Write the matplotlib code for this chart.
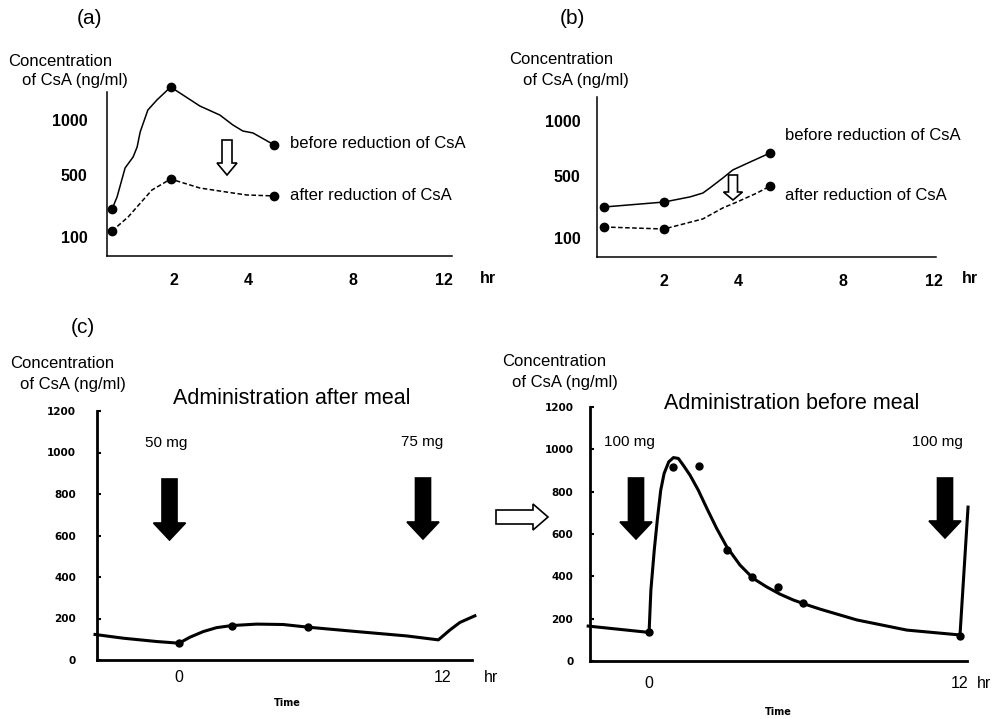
import numpy as np
import matplotlib
matplotlib.use("Agg")
import matplotlib.pyplot as plt
from matplotlib.patches import FancyArrow
from matplotlib.transforms import IdentityTransform

# %% Data
# (a) and (b): time [hr] vs CsA concentration [ng/ml], curve vertices + measured points
a_before_t = [0.15, 0.3, 0.54, 0.78, 0.9, 0.99, 1.22, 1.49, 1.9, 2.7, 3.24, 3.59, 3.86, 4.19, 5.0]
a_before_c = [280, 358, 564, 664, 755, 891, 1091, 1182, 1300, 1127, 1045, 955, 900, 882, 773]
a_before_pts_t = [0.15, 1.9, 5.0]
a_before_pts_c = [280, 1300, 773]
a_after_t = [0.15, 0.63, 1.34, 1.9, 2.7, 3.59, 3.97, 5.0]
a_after_c = [139, 229, 403, 474, 416, 384, 371, 365]
a_after_pts_t = [0.15, 1.9, 5.0]
a_after_pts_c = [139, 474, 365]

b_before_t = [0.21, 2.0, 2.7, 3.05, 3.24, 3.59, 3.86, 4.46, 5.22]
b_before_c = [300, 332, 365, 390, 423, 487, 555, 627, 709]
b_before_pts_t = [0.21, 2.0, 5.22]
b_before_pts_c = [300, 332, 709]
b_after_t = [0.21, 2.0, 3.05, 3.59, 3.97, 4.72, 5.22]
b_after_c = [171, 158, 223, 294, 332, 390, 435]
b_after_pts_t = [0.21, 2.0, 5.22]
b_after_pts_c = [171, 158, 435]

# (c) left: administration after meal
c1_t = [-3.82, -2.53, -1.01, 0, 0.5, 1.1, 1.71, 2.4, 3.53, 4.74, 5.88, 8.08, 10.35, 11.79,
        12.32, 12.77, 13.45]
c1_c = [123, 105, 89, 81, 110, 137, 156, 166, 173, 171, 158, 137, 116, 97, 145, 181, 213]
c1_pts_t = [0, 2.4, 5.88]
c1_pts_c = [81, 166, 158]

# (c) right: administration before meal
c2_t = [-2.35, 0, 0.07, 0.2, 0.33, 0.45, 0.58, 0.76, 0.94, 1.13, 1.32, 1.58, 1.9, 2.23, 2.61,
        3.0, 3.51, 4.02, 4.54, 5.05, 5.57, 6.08, 6.6, 8.02, 9.95, 12.0, 12.31]
c2_c = [165, 135, 335, 524, 681, 807, 886, 941, 961, 957, 925, 878, 807, 721, 626,
        539, 453, 390, 350, 316, 288, 266, 245, 194, 146, 123, 727]
c2_pts_t = [0, 0.93, 1.93, 3.0, 3.98, 4.98, 5.95, 12.0]
c2_pts_c = [135, 916, 920, 524, 397, 349, 274, 118]

ab_xticks = [2, 4, 8, 12]
ab_yticks = [100, 500, 1000]
c_yticks = [0, 200, 400, 600, 800, 1000, 1200]
c_xticks = [0, 12]

# non-uniform axes of (a)/(b): value -> relative position
hr_knots = [-10, 0, 2, 4, 8, 12, 30]
hr_pos = [-335, 0, 67, 141, 246, 337, 747]
conc_knots = [-1000, 0, 100, 500, 1000, 3000]
conc_pos = [-190, 0, 19, 81, 136, 356]

# %% Figure setup
W, H = 992, 719
plt.rcParams['font.family'] = ['Liberation Sans', 'DejaVu Sans']
fig = plt.figure(figsize=(W / 100, H / 100), dpi=100)


def axes_px(left, top, right, bottom):
    return fig.add_axes([left / W, 1 - bottom / H, (right - left) / W, (bottom - top) / H])


def ftext(x, y, s, **kw):
    kw.setdefault('va', 'center')
    fig.text(x / W, 1 - y / H, s, **kw)


def arrow(x0, y0, x1, y1, width, head_width, head_length, fill):
    fig.add_artist(FancyArrow(x0, H - y0, x1 - x0, -(y1 - y0), width=width,
                              head_width=head_width, head_length=head_length,
                              length_includes_head=True, transform=IdentityTransform(),
                              fc=fill, ec='black', lw=1.2))


hr_fwd = lambda v: np.interp(v, hr_knots, hr_pos)
hr_inv = lambda p: np.interp(p, hr_pos, hr_knots)
conc_fwd = lambda v: np.interp(v, conc_knots, conc_pos)
conc_inv = lambda p: np.interp(p, conc_pos, conc_knots)


def setup_ab(ax, xspan, yspan, ypad):
    ax.set_xscale('function', functions=(hr_fwd, hr_inv))
    ax.set_yscale('function', functions=(conc_fwd, conc_inv))
    ax.set_xlim(0, hr_inv(xspan))
    ax.set_ylim(0, conc_inv(yspan))
    ax.set_xticks(ab_xticks)
    ax.set_yticks(ab_yticks)
    ax.minorticks_off()
    ax.set_xticklabels([str(v) for v in ab_xticks], fontweight='bold', fontsize=11.5)
    ax.set_yticklabels([str(v) for v in ab_yticks], fontweight='bold', fontsize=11.5)
    ax.tick_params(axis='x', length=0, pad=12)
    ax.tick_params(axis='y', length=0, pad=ypad)
    for s in ['top', 'right']:
        ax.spines[s].set_visible(False)
    for s in ['left', 'bottom']:
        ax.spines[s].set_linewidth(1.1)
    ax.patch.set_alpha(0)


def draw_ab(ax, bt, bc, bpt, bpc, at, ac, apt, apc):
    ax.plot(bt, bc, '-', color='black', lw=1.1, clip_on=False)
    ax.plot(bpt, bpc, 'o', color='black', ms=6, clip_on=False)
    ax.plot(at, ac, color='black', lw=1.1, ls=(0, (3, 1.6)), clip_on=False)
    ax.plot(apt, apc, 'o', color='black', ms=6, clip_on=False)


# %% (a)
ax_a = axes_px(107, 92, 452, 256)
setup_ab(ax_a, 345, 164, 14)
draw_ab(ax_a, a_before_t, a_before_c, a_before_pts_t, a_before_pts_c,
        a_after_t, a_after_c, a_after_pts_t, a_after_pts_c)
ftext(89, 18, '(a)', fontsize=15, ha='center')
ftext(8, 61, 'Concentration', fontsize=12)
ftext(22, 81, 'of CsA (ng/ml)', fontsize=12)
ftext(290, 144, 'before reduction of CsA', fontsize=12)
ftext(290, 195, 'after reduction of CsA', fontsize=12)
ftext(480, 279, 'hr', fontsize=11.5, fontweight='bold')
arrow(227, 140, 227, 175, 10, 20, 12, 'white')

# %% (b)
ax_b = axes_px(597, 97, 936, 257)
setup_ab(ax_b, 339, 160, 12)
draw_ab(ax_b, b_before_t, b_before_c, b_before_pts_t, b_before_pts_c,
        b_after_t, b_after_c, b_after_pts_t, b_after_pts_c)
ftext(572, 18, '(b)', fontsize=15, ha='center')
ftext(509, 59, 'Concentration', fontsize=12)
ftext(523, 80, 'of CsA (ng/ml)', fontsize=12)
ftext(785, 135, 'before reduction of CsA', fontsize=12)
ftext(785, 195, 'after reduction of CsA', fontsize=12)
ftext(962, 279, 'hr', fontsize=11.5, fontweight='bold')
arrow(733, 175, 733, 200, 9, 19, 8, 'white')


# %% (c)
def setup_c(ax, xlo, xhi, xpad, ypad):
    ax.set_xlim(xlo, xhi)
    ax.set_ylim(0, 1200)
    ax.set_yticks(c_yticks)
    ax.set_yticklabels([str(v) for v in c_yticks], family='DejaVu Sans',
                       fontweight='bold', fontsize=7.5)
    ax.set_xticks(c_xticks)
    ax.set_xticklabels([str(v) for v in c_xticks], fontsize=11.5)
    ax.tick_params(axis='x', length=0, pad=xpad)
    ax.tick_params(axis='y', direction='in', length=3, width=1.5, pad=ypad)
    for s in ['top', 'right']:
        ax.spines[s].set_visible(False)
    for s in ['left', 'bottom']:
        ax.spines[s].set_linewidth(2)
    ax.patch.set_alpha(0)


ax_c1 = axes_px(97, 411, 472, 660)
setup_c(ax_c1, -3.73, 13.32, 7, 15)
ax_c1.plot(c1_t, c1_c, '-', color='black', lw=2.2, clip_on=False, solid_joinstyle='round')
ax_c1.plot(c1_pts_t, c1_pts_c, 'o', color='black', ms=5, clip_on=False)

ax_c2 = axes_px(590, 407, 967, 661)
setup_c(ax_c2, -2.28, 12.27, 11, 12)
ax_c2.plot(c2_t, c2_c, '-', color='black', lw=2.2, clip_on=False, solid_joinstyle='round')
ax_c2.plot(c2_pts_t, c2_pts_c, 'o', color='black', ms=5, clip_on=False)

ftext(83, 328, '(c)', fontsize=15, ha='center')
ftext(10, 363, 'Concentration', fontsize=12)
ftext(20, 384, 'of CsA (ng/ml)', fontsize=12)
ftext(502, 362, 'Concentration', fontsize=12)
ftext(512, 382, 'of CsA (ng/ml)', fontsize=12)
ftext(292, 399, 'Administration after meal', fontsize=15.5, ha='center')
ftext(792, 403, 'Administration before meal', fontsize=15.5, ha='center')
ftext(166, 443, '50 mg', fontsize=11, ha='center')
ftext(422, 442, '75 mg', fontsize=11, ha='center')
ftext(629, 442, '100 mg', fontsize=11, ha='center')
ftext(937, 442, '100 mg', fontsize=11, ha='center')
ftext(287, 703, 'Time', family='DejaVu Sans', fontweight='bold', fontsize=7, ha='center')
ftext(778, 712, 'Time', family='DejaVu Sans', fontweight='bold', fontsize=7, ha='center')
ftext(484, 678, 'hr', fontsize=11.5)
ftext(977, 684, 'hr', fontsize=11.5)

arrow(169.5, 479, 169.5, 540, 15, 32, 17, 'black')
arrow(423, 478, 423, 539, 15, 32, 17, 'black')
arrow(636, 478, 636, 539, 15, 32, 17, 'black')
arrow(945, 478, 945, 538, 15, 32, 17, 'black')
arrow(496, 517, 548, 517, 14, 26, 15, 'white')

# %% Save
fig.savefig('out.png', dpi=100)
